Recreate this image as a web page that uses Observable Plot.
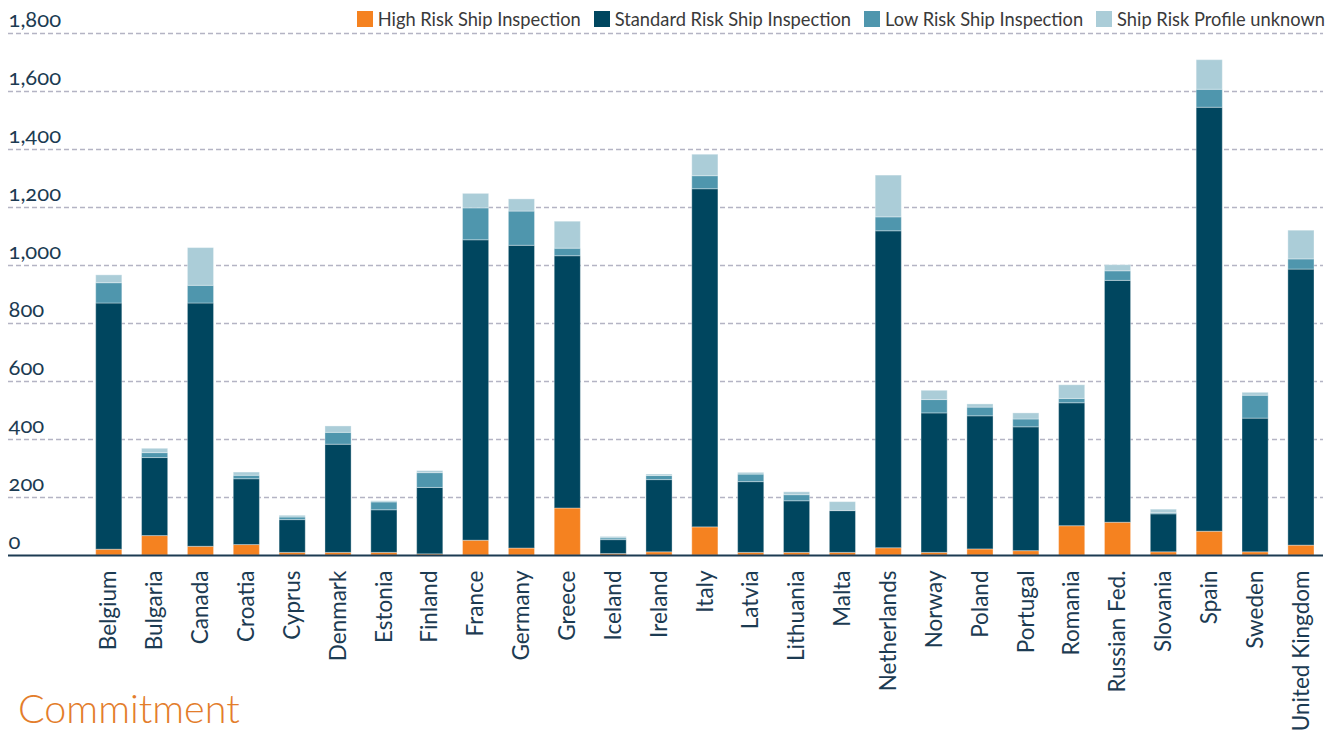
<!DOCTYPE html>
<html>
<head>
<meta charset="utf-8">
<script src="https://cdn.jsdelivr.net/npm/d3@7"></script>
<script src="https://cdn.jsdelivr.net/npm/@observablehq/plot@0.6"></script>
<style>
  body { margin: 0; background: #fff; }
  #wrap { position: relative; width: 1339px; height: 731px; font-family: Lato, "Open Sans", sans-serif; overflow: hidden; }
  #legend { position: absolute; top: 8px; right: 14px; display: flex; align-items: center; font-size: 18.3px; color: #3a3a3a; white-space: nowrap; }
  #legend .item { display: flex; align-items: center; margin-left: 13px; }
  #legend .sw { width: 16px; height: 16px; margin-right: 5px; }
  #title { position: absolute; left: 18px; top: 684px; font-size: 39.5px; font-weight: 300; color: #e37d2b; }
</style>
</head>
<body>
<div id="wrap">
  <div id="chart"></div>
  <div id="legend"></div>
  <div id="title">Commitment</div>
</div>
<script>
const countries = ["Belgium","Bulgaria","Canada","Croatia","Cyprus","Denmark","Estonia","Finland","France","Germany","Greece","Iceland","Ireland","Italy","Latvia","Lithuania","Malta","Netherlands","Norway","Poland","Portugal","Romania","Russian Fed.","Slovania","Spain","Sweden","United Kingdom"];
const seriesNames = ["High Risk Ship Inspection","Standard Risk Ship Inspection","Low Risk Ship Inspection","Ship Risk Profile unknown"];
const seriesColors = ["#f58220","#00465f","#4f96ad","#abcdd8"];
const high     = [20,67,30,36,9,9,9,4,51,24,162,5,11,97,9,9,9,25,9,21,15,101,113,11,82,11,34];
const standard = [849,269,839,227,113,373,147,229,1036,1044,870,48,249,1166,244,178,144,1093,481,459,427,424,834,131,1462,461,952];
const low      = [70,17,61,12,9,41,27,51,110,118,26,6,14,45,26,21,0,48,46,30,27,15,33,4,62,79,35];
const unknown  = [27,15,130,11,6,22,4,7,50,42,93,5,5,74,6,10,31,144,32,11,21,47,21,12,102,10,99];
const yTicks = [0,200,400,600,800,1000,1200,1400,1600,1800];

const seriesValues = [high, standard, low, unknown];
const rows = [];
seriesNames.forEach((s, si) => {
  countries.forEach((c, ci) => rows.push({country: c, series: s, value: seriesValues[si][ci]}));
});

const navy = "#1c3b52";
const chart = Plot.plot({
  width: 1339,
  height: 731,
  marginTop: 33,
  marginBottom: 176,
  marginLeft: 8,
  marginRight: 16,
  style: {fontFamily: "Lato, 'Open Sans', sans-serif", color: navy, background: "#fff"},
  x: {domain: countries, range: [95.7, 1314], paddingInner: 0.43, paddingOuter: 0, align: 0.5, round: false},
  y: {domain: [0, 1800]},
  color: {domain: seriesNames, range: seriesColors},
  marks: [
    Plot.ruleY(yTicks.filter(d => d > 0), {stroke: "#b4b4c4", strokeDasharray: "5,3", strokeWidth: 1.5}),
    Plot.barY(rows, {x: "country", y: "value", fill: "series", stroke: "#ffffff", strokeOpacity: 0.35, strokeWidth: 1}),
    Plot.ruleY([0], {stroke: navy, strokeWidth: 2}),
    Plot.axisY({ticks: yTicks, anchor: "left", tickSize: 0, tickPadding: 0, textAnchor: "start", dx: 0, dy: -14, fontSize: 22, tickFormat: d3.format(","), label: null}),
    Plot.axisX({tickSize: 0, tickRotate: -90, tickPadding: 15, fontSize: 22.5, label: null})
  ]
});
document.getElementById("chart").appendChild(chart);
chart.querySelectorAll("text").forEach(t => t.style.fontVariantNumeric = "oldstyle-nums");

const legend = document.getElementById("legend");
seriesNames.forEach((s, i) => {
  const item = document.createElement("div");
  item.className = "item";
  const sw = document.createElement("div");
  sw.className = "sw";
  sw.style.background = seriesColors[i];
  const lab = document.createElement("span");
  lab.textContent = s;
  item.appendChild(sw);
  item.appendChild(lab);
  legend.appendChild(item);
});
</script>
</body>
</html>
